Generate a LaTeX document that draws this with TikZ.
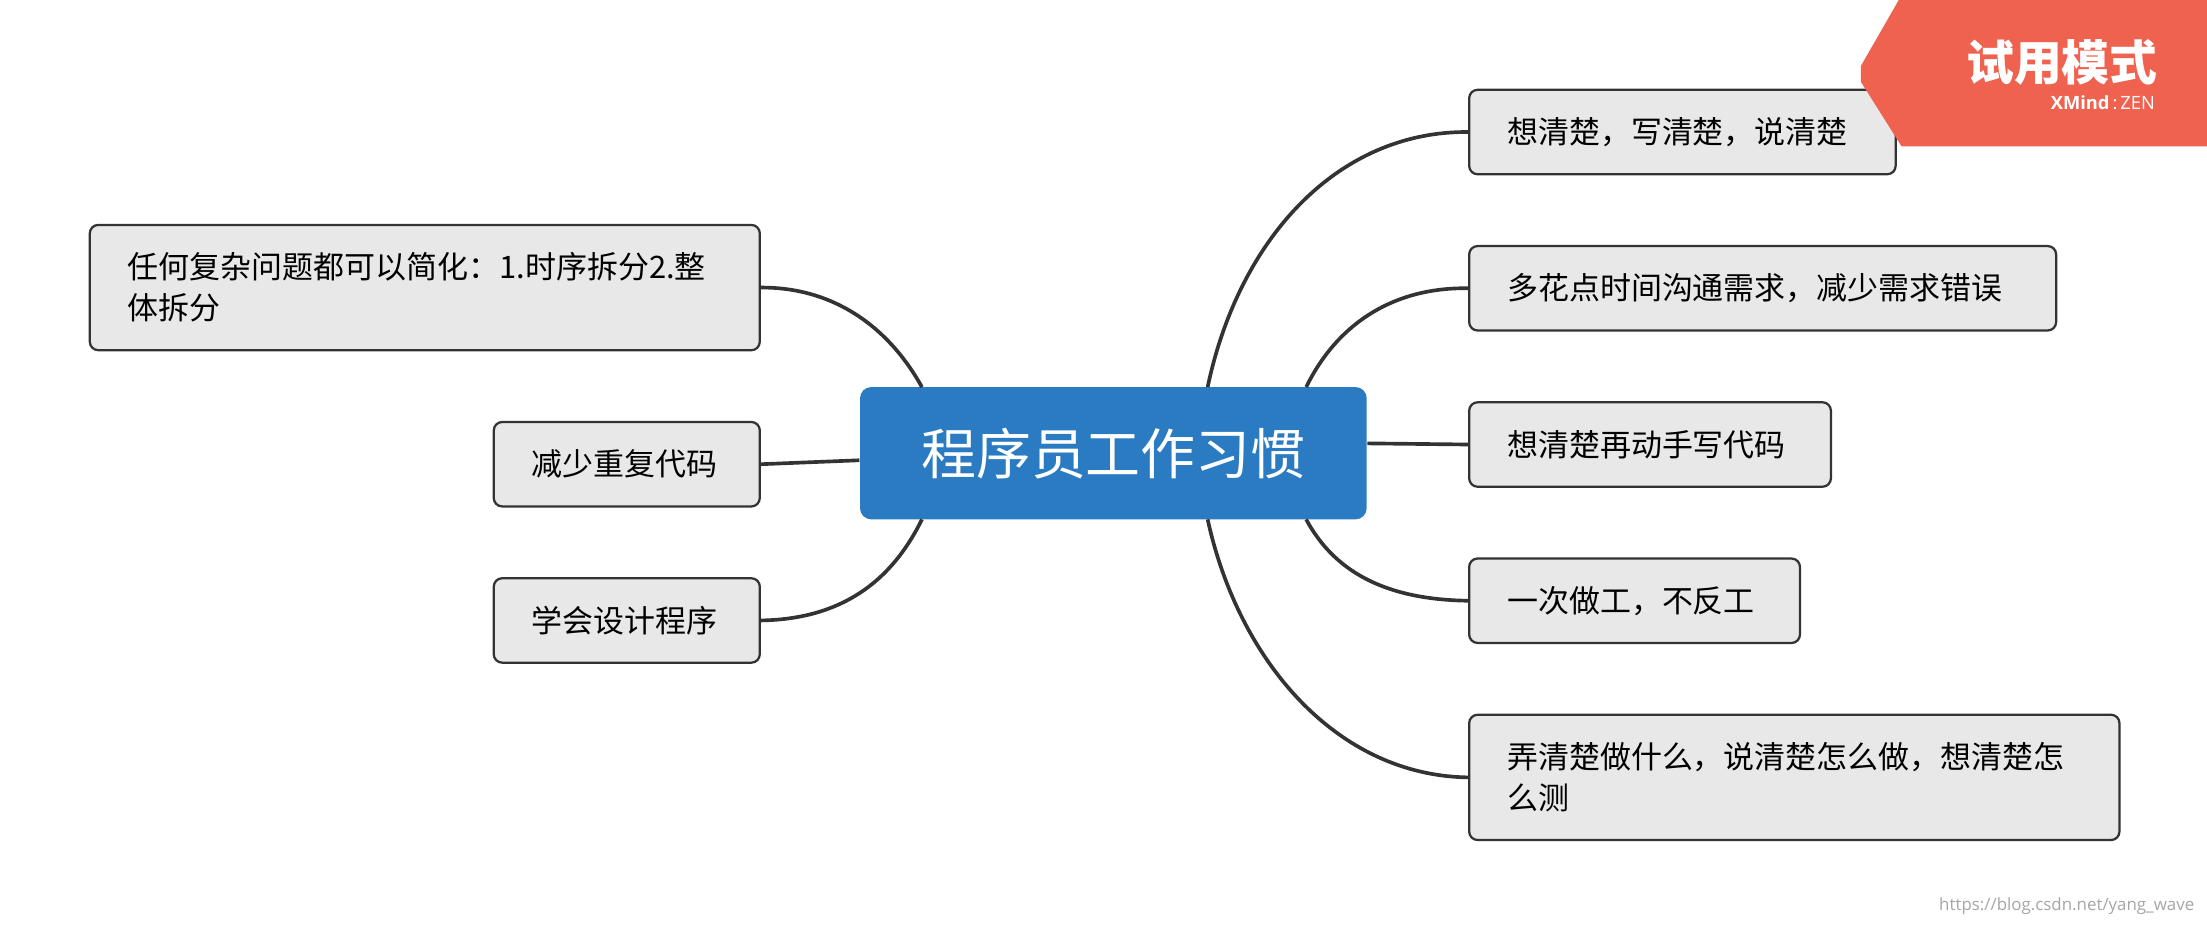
\documentclass[tikz,border=0pt]{standalone}
\usepackage{fontspec}
\setmainfont{Noto Sans CJK SC}
\newfontfamily\latinf{Open Sans}
\definecolor{cblue}{RGB}{43,123,194}
\definecolor{wmred}{RGB}{240,98,80}
\begin{document}
\begin{tikzpicture}[x=0.5pt,y=0.5pt,
  topic/.style={draw=black!80,line width=0.8pt,fill=black!9,rounded corners=3pt,anchor=north west,
    inner xsep=13.5pt,inner ysep=0pt,align=left,font=\fontsize{11}{14.5}\selectfont},
  conn/.style={draw=black!80,line width=1.3pt}]
\useasboundingbox (0,0) rectangle (1568,-659);
\fill[white] (0,0) rectangle (1568,-659);
% central
\node[fill=cblue,rounded corners=4pt,minimum width=180pt,minimum height=47pt,
  text=white,font=\fontsize{19.5}{22}\selectfont] (c) at (791,-322) {程序员工作习惯};
% right topics
\node[topic,minimum width=151.5pt,minimum height=30pt,text width=124.5pt] (r1) at (1043,-63) {想清楚，写清楚，说清楚};
\node[topic,minimum width=208.5pt,minimum height=30pt,text width=181.5pt] (r2) at (1043,-174) {多花点时间沟通需求，减少需求错误};
\node[topic,minimum width=128.5pt,minimum height=30pt,text width=101.5pt] (r3) at (1043,-285) {想清楚再动手写代码};
\node[topic,minimum width=117.5pt,minimum height=30pt,text width=90.5pt] (r4) at (1043,-396) {一次做工，不反工};
\node[topic,minimum width=231pt,minimum height=44.5pt,text width=204pt] (r5) at (1043,-507) {弄清楚做什么，说清楚怎么做，想清楚怎\\么测};
% left topics
\node[topic,minimum width=238pt,minimum height=44.5pt,text width=211pt] (l1) at (63,-159) {任何复杂问题都可以简化：1.时序拆分2.整\\体拆分};
\node[topic,minimum width=94.5pt,minimum height=30pt,text width=67.5pt] (l2) at (350,-299) {减少重复代码};
\node[topic,minimum width=94.5pt,minimum height=30pt,text width=67.5pt] (l3) at (350,-410) {学会设计程序};
% connectors
\coordinate (c1) at (858,-275); \coordinate (c2) at (928,-275);
\coordinate (c4) at (928,-369); \coordinate (c5) at (858,-369);
\coordinate (d1) at (655,-275); \coordinate (d3) at (655,-369);
\draw[conn] (c1) .. controls (880,-170) and (950,-93) .. (r1.west);
\draw[conn] (c2) .. controls (950,-230) and (990,-204) .. (r2.west);
\draw[conn] (c.east) ++(0,7) -- (r3.west);
\draw[conn] (c4) .. controls (950,-410) and (990,-426) .. (r4.west);
\draw[conn] (c5) .. controls (880,-470) and (950,-551) .. (r5.west);
\draw[conn] (d1) .. controls (630,-230) and (590,-204) .. (l1.east);
\draw[conn] (c.west) ++(0,-5) -- (l2.east);
\draw[conn] (d3) .. controls (630,-420) and (590,-440) .. (l3.east);
% watermark
\fill[wmred] (1349,0) -- (1568,0) -- (1568,-104) -- (1351,-104) -- (1322,-58) -- (1322,-47) -- cycle;
\node[text=white,font=\fontsize{17}{20}\selectfont\bfseries,anchor=east] (wm) at (1540,-44) {试用模式};
\node[text=white,font=\latinf\fontsize{6.5}{8}\selectfont,anchor=east] (wm2) at (1538,-73) {\textbf{XMind}\,:\,ZEN};
\node[text=black!35,font=\latinf\fontsize{6}{7}\selectfont,anchor=south east] (url) at (1566,-657) {https://blog.csdn.net/yang\_wave};
\end{tikzpicture}
\end{document}
